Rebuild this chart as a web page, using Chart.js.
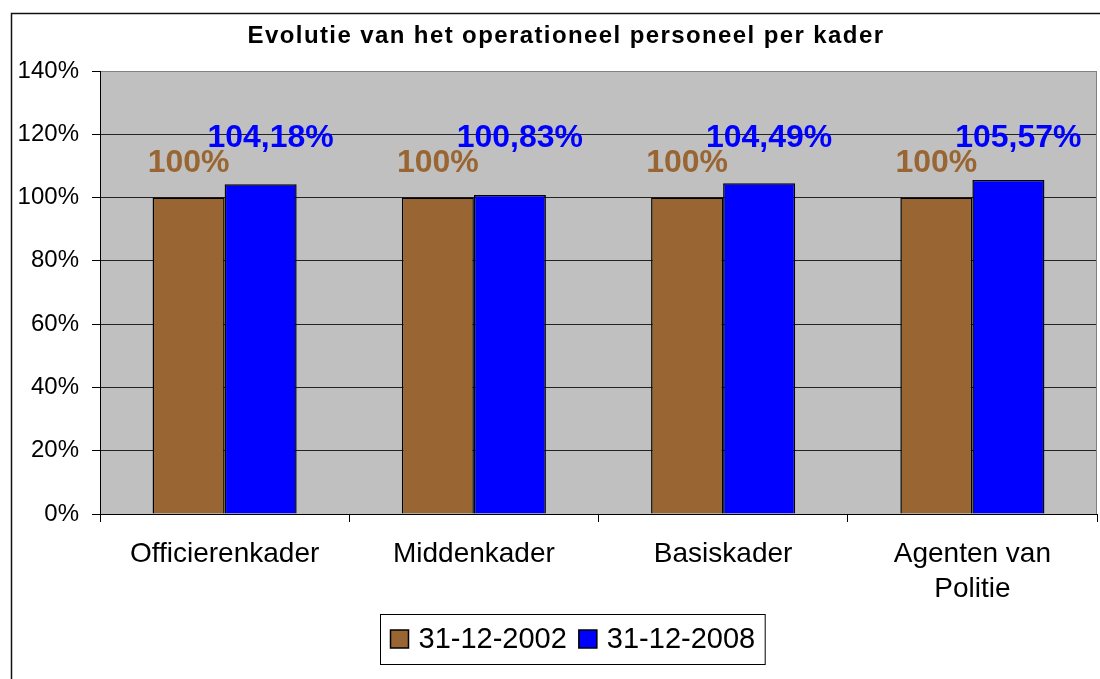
<!DOCTYPE html>
<html>
<head>
<meta charset="utf-8">
<script src="https://cdn.jsdelivr.net/npm/chart.js@4.4.1/dist/chart.umd.min.js"></script>
<style>
    body { margin: 0; background: #fff; }
    canvas { display: block; }
</style>
</head>
<body>
<canvas id="chart" width="1100" height="679"></canvas>
<script>
// Data
const chartTitle = 'Evolutie van het operationeel personeel per kader';
const categories = ['Officierenkader', 'Middenkader', 'Basiskader', ['Agenten van', 'Politie']];
const seriesNames = ['31-12-2002', '31-12-2008'];
const values2002 = [100, 100, 100, 100];
const values2008 = [104.18, 100.83, 104.49, 105.57];
const yTicks = [0, 20, 40, 60, 80, 100, 120, 140];

const fontFamily = '"Liberation Sans", Arial, sans-serif';

// 100 -> "100%", 104.18 -> "104,18%"
const fmtPct = (v) => Number.isInteger(v) ? v + '%' : v.toFixed(2).replace('.', ',') + '%';

const decorPlugin = {
    id: 'decor',
    beforeDraw(chart) {
        const { ctx, chartArea: a } = chart;
        ctx.save();
        // grey plot background
        ctx.fillStyle = '#c0c0c0';
        ctx.fillRect(a.left, a.top, a.right - a.left, a.bottom - a.top);
        // outer frame (right and bottom sides fall outside the picture)
        ctx.strokeStyle = '#111';
        ctx.lineWidth = 1.5;
        ctx.strokeRect(11.5, 13.5, 1200, 1200);
        ctx.restore();
    },
    afterDraw(chart) {
        const { ctx, chartArea: a } = chart;
        ctx.save();
        // grey right border of the plot
        ctx.strokeStyle = '#808080';
        ctx.lineWidth = 1;
        ctx.beginPath();
        ctx.moveTo(a.right - 0.5, a.top);
        ctx.lineTo(a.right - 0.5, a.bottom);
        ctx.stroke();

        // title
        ctx.fillStyle = '#000';
        ctx.font = 'bold 24px ' + fontFamily;
        ctx.letterSpacing = '1.4px';
        ctx.textAlign = 'center';
        ctx.textBaseline = 'middle';
        ctx.fillText(chartTitle, 566, 36);
        ctx.letterSpacing = '0px';

        // value labels above the bars
        const yScale = chart.scales.y;
        const labelLevel = [null, yScale.getPixelForValue(118.8)];
        const labelDx = [0, 10];
        chart.data.datasets.forEach((ds, i) => {
            const meta = chart.getDatasetMeta(i);
            ctx.font = 'bold 32px ' + fontFamily;
            ctx.fillStyle = ds.backgroundColor;
            meta.data.forEach((bar, j) => {
                const y = labelLevel[i] !== null ? labelLevel[i] : bar.y - 34;
                ctx.fillText(fmtPct(ds.data[j]), bar.x + labelDx[i], y);
            });
        });

        // legend with a frame
        ctx.font = '29px ' + fontFamily;
        ctx.textAlign = 'left';
        const box = 18, gap = 10, itemGap = 12, pad = 10;
        const widths = chart.data.datasets.map(ds => box + gap + ctx.measureText(ds.label).width);
        const total = widths.reduce((s, w) => s + w, 0) + itemGap + pad * 2;
        const lx = Math.round(572 - total / 2) + 0.5;
        const ly = 614.5, lh = 50;
        ctx.strokeStyle = '#000';
        ctx.lineWidth = 1;
        ctx.strokeRect(lx, ly, total, lh);
        let x = lx + pad;
        chart.data.datasets.forEach((ds, i) => {
            ctx.fillStyle = ds.backgroundColor;
            ctx.fillRect(x, 630, box, box);
            ctx.lineWidth = 1.5;
            ctx.strokeRect(x, 630, box, box);
            ctx.fillStyle = '#000';
            ctx.fillText(ds.label, x + box + gap, 640);
            x += widths[i] + itemGap;
        });
        ctx.restore();
    }
};

new Chart(document.getElementById('chart'), {
    type: 'bar',
    data: {
        labels: categories,
        datasets: [
            {
                label: seriesNames[0],
                data: values2002,
                backgroundColor: '#996633',
                borderColor: '#000',
                borderWidth: 1.5
            },
            {
                label: seriesNames[1],
                data: values2008,
                backgroundColor: '#0000ff',
                borderColor: '#000',
                borderWidth: 1.5
            }
        ]
    },
    options: {
        responsive: false,
        animation: false,
        layout: { padding: { top: 71, right: 3, left: 0, bottom: 0 } },
        datasets: {
            bar: { categoryPercentage: 0.578, barPercentage: 1 }
        },
        scales: {
            x: {
                afterFit: (scale) => { scale.height = 165; },
                border: { color: '#000', width: 1 },
                grid: {
                    offset: true,
                    drawOnChartArea: false,
                    color: '#000',
                    tickLength: 8
                },
                ticks: {
                    color: '#000',
                    padding: 15,
                    maxRotation: 0,
                    font: { family: fontFamily, size: 28, lineHeight: 1.25 }
                }
            },
            y: {
                min: 0,
                max: 140,
                afterFit: (scale) => { scale.width = 100; },
                afterBuildTicks: (scale) => { scale.ticks = yTicks.map(v => ({ value: v })); },
                border: { color: '#000', width: 1 },
                grid: {
                    color: (c) => c.tick && c.tick.value === 140 ? '#808080' : '#222',
                    tickColor: '#000',
                    tickLength: 8
                },
                ticks: {
                    color: '#000',
                    padding: 13,
                    font: { family: fontFamily, size: 24 },
                    callback: (v) => v + '%'
                }
            }
        },
        plugins: {
            legend: { display: false },
            tooltip: { enabled: false }
        }
    },
    plugins: [decorPlugin]
});
</script>
</body>
</html>
